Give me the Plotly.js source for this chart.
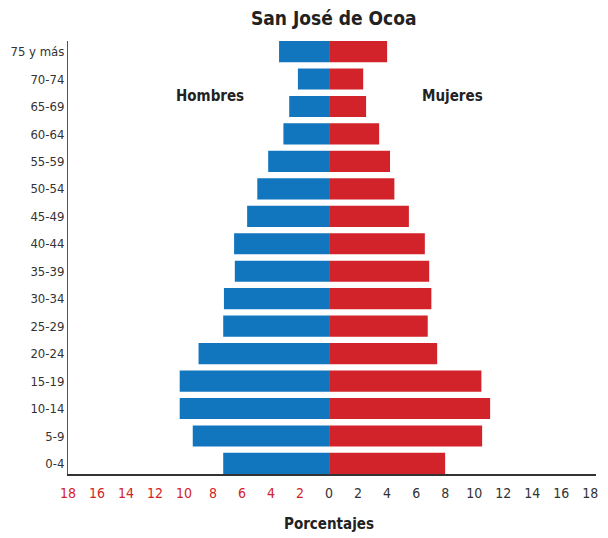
<!DOCTYPE html>
<html>
<head>
<meta charset="utf-8">
<script src="https://cdn.plot.ly/plotly-3.0.1.min.js"></script>
<style>html,body{margin:0;padding:0;background:#fff;}#chart{width:608px;height:538px;}</style>
</head>
<body>
<div id="chart"></div>
<script>
const categories = ["0-4","5-9","10-14","15-19","20-24","25-29","30-34","35-39","40-44","45-49","50-54","55-59","60-64","65-69","70-74","75 y más"];
const hombres = [7.3, 9.4, 10.3, 10.3, 9.0, 7.3, 7.25, 6.5, 6.55, 5.65, 4.95, 4.2, 3.15, 2.75, 2.15, 3.45];
const mujeres = [8.0, 10.55, 11.1, 10.5, 7.45, 6.8, 7.05, 6.9, 6.6, 5.5, 4.5, 4.2, 3.45, 2.55, 2.35, 4.0];
const tickValues = [-18,-16,-14,-12,-10,-8,-6,-4,-2,0,2,4,6,8,10,12,14,16,18];

const FONT = "'DejaVu Sans Condensed', 'Liberation Sans Narrow', sans-serif";
const RED = "#d2232a";
const BLUE = "#1176be";

const tickText = tickValues.map(v => v < 0 ? '<span style="color:' + RED + '">' + Math.abs(v) + '</span>' : String(v));

const traces = [
  {type:'bar', orientation:'h', y: categories, x: hombres.map(v => -v), marker:{color:BLUE}, name:'Hombres', hoverinfo:'skip'},
  {type:'bar', orientation:'h', y: categories, x: mujeres, marker:{color:RED}, name:'Mujeres', hoverinfo:'skip'}
];

const layout = {
  width:608, height:538,
  margin:{l:67.5, r:12, t:41, b:64, pad:0},
  paper_bgcolor:'#fff', plot_bgcolor:'#fff',
  barmode:'relative', bargap:0.23,
  showlegend:false,
  font:{family:FONT, color:'#333', size:13},
  title:{text:'<b>San José de Ocoa</b>', font:{family:FONT, size:19, color:'#222'}, x:0.549, xref:'container', xanchor:'center', y:1-18/538, yref:'container', yanchor:'middle'},
  xaxis:{range:[-18,18.4], tickvals:tickValues, ticktext:tickText, showgrid:false, zeroline:false,
         showline:true, linecolor:'#333', linewidth:2, ticks:'outside', ticklen:5, tickcolor:'rgba(0,0,0,0)',
         tickfont:{family:FONT, size:14, color:'#333'}, fixedrange:true},
  yaxis:{type:'category', categoryorder:'array', categoryarray:categories, range:[-0.385, 15.385], showgrid:false, zeroline:false,
         showline:true, linecolor:'#555', linewidth:1, ticks:'', ticklabelstandoff:0,
         tickfont:{family:FONT, size:13, color:'#333'}, fixedrange:true},
  annotations:[
    {text:'<b>Hombres</b>', xref:'x', yref:'paper', x:-8.2, y:(474-96)/433, showarrow:false, font:{family:FONT, size:15, color:'#222'}, xanchor:'center', yanchor:'middle'},
    {text:'<b>Mujeres</b>', xref:'x', yref:'paper', x:8.5, y:(474-96)/433, showarrow:false, font:{family:FONT, size:15, color:'#222'}, xanchor:'center', yanchor:'middle'},
    {text:'<b>Porcentajes</b>', xref:'x', yref:'paper', x:0, y:-(524-474)/433, showarrow:false, font:{family:FONT, size:15, color:'#222'}, xanchor:'center', yanchor:'middle'}
  ]
};

Plotly.newPlot('chart', traces, layout, {displayModeBar:false, staticPlot:true});
</script>
</body>
</html>
